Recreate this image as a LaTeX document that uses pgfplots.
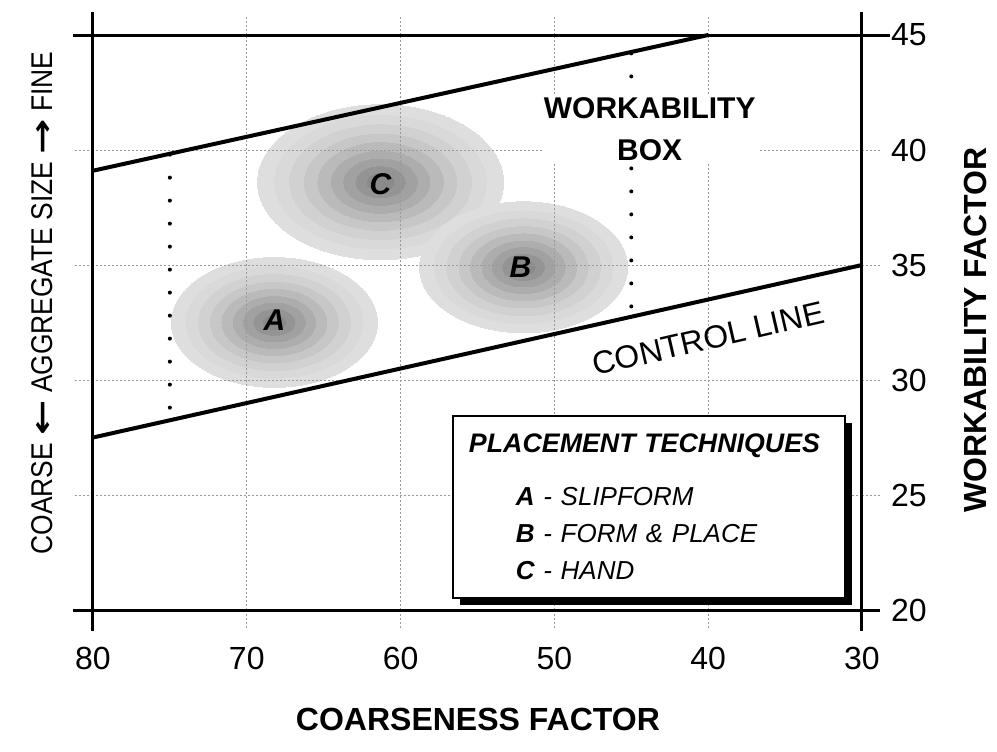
\documentclass[border=0pt]{standalone}
\usepackage{pgfplots}
\pgfplotsset{compat=1.18}
\usepackage{graphicx}
\usepackage{fontspec}
\setmainfont{Liberation Sans}
\newfontfamily\dejavu{DejaVu Sans}
\usetikzlibrary{shadows}

\newcommand\arr[1]{\scalebox{1.6}[1]{\dejavu\bfseries #1}}

\begin{document}
\begin{tikzpicture}
\begin{axis}[
  set layers,
  scale only axis, width=384.5pt, height=287.5pt,
  x dir=reverse, xmin=30, xmax=80, ymin=20, ymax=45,
  xtick={30,40,...,80}, ytick={20,25,...,45},
  xticklabel pos=bottom, xtick pos=both,
  yticklabel pos=right, ytick pos=both,
  tick align=outside, major tick length=9pt,
  tick style={gray!80, line width=0.5pt, dash pattern=on 1pt off 1pt},
  grid=major, grid style={gray!80, line width=0.5pt, dash pattern=on 1pt off 1pt},
  axis line style={draw=none},
  clip=false,
  ticklabel style={font=\fontsize{16}{19}\selectfont},
  xticklabel style={yshift=-6pt},
  yticklabel style={xshift=2pt},
  /pgf/number format/assume math mode=true,
]
% zones C, A, B: centre x, centre y, half width (pt); rings get darker inwards
\foreach \bx/\by/\br in {61.3/38.6/61.5, 68.2/32.5/51.5, 52.0/34.9/52}{
  \foreach \f/\c in {1/13,0.86/15,0.74/18,0.62/22,0.51/27,0.40/32,0.30/37,0.20/42,0.11/46}{
    \pgfmathsetmacro\rr{\f*\br}
    \edef\tmp{\noexpand\addplot[on layer=axis background, mark layer=axis background,
      only marks, mark=*, mark size=\rr pt,
      mark options={draw=black!\c, line width=0pt, fill=black!\c, yscale=0.63}] coordinates {(\bx,\by)};}
    \tmp
  }
}

% frame
\addplot[black, line width=1.5pt] coordinates {(81.3,45) (28.2,45)};
\addplot[black, line width=1.5pt] coordinates {(81.3,20) (28.8,20)};
\addplot[black, line width=1.5pt] coordinates {(80,46) (80,19.1)};
\addplot[black, line width=1.5pt] coordinates {(30,46) (30,19.1)};

% workability box
\addplot[black, line width=2pt] coordinates {(80,39.1) (40,45)};
\addplot[black, line width=2pt] coordinates {(80,27.5) (30,35)};
\addplot[black, line width=2pt, line cap=round, dash pattern=on 0pt off 11.5pt] coordinates {(75,39.8) (75,28.3)};
\addplot[black, line width=2pt, line cap=round, dash pattern=on 0pt off 11.5pt] coordinates {(45,44.2) (45,32.8)};

\node[font=\bfseries\itshape\fontsize{15}{18}\selectfont] at (axis cs:68.2,32.6) {A};
\node[font=\bfseries\itshape\fontsize{15}{18}\selectfont] at (axis cs:52.2,34.9) {B};
\node[font=\bfseries\itshape\fontsize{15}{18}\selectfont] at (axis cs:61.3,38.5) {C};

\node[fill=white, inner sep=1pt, align=center, font=\bfseries\fontsize{15}{21}\selectfont] at (axis cs:43.8,40.9) {WORKABILITY\\BOX};
\node[rotate=13, font=\fontsize{16}{19}\selectfont] at (axis cs:40,31.8) {CONTROL LINE};

\node[draw, line width=1pt, fill=white,
  drop shadow={shadow xshift=3.5pt, shadow yshift=-3.5pt, opacity=1, fill=black},
  text width=180pt, minimum height=91pt, inner xsep=8pt, align=left,
  font=\itshape\fontsize{13}{18.5}\selectfont] at (axis cs:43.85,24.5)
  {\mbox{\fontsize{13.4}{15}\selectfont\textbf{PLACEMENT TECHNIQUES}}\\[8pt]
   \hspace*{23.5pt}\textbf{A} - SLIPFORM\\
   \hspace*{23.5pt}\textbf{B} - FORM \& PLACE\\
   \hspace*{23.5pt}\textbf{C} - HAND};

% axis titles
\node[rotate=90, font=\fontsize{15}{18}\selectfont] at (rel axis cs:-0.066,0.534)
  {\scalebox{0.88}[1]{COARSE \arr{←} AGGREGATE SIZE \arr{→} FINE}};
\node[rotate=90, font=\bfseries\fontsize{16}{19}\selectfont] at (rel axis cs:1.148,0.487) {WORKABILITY FACTOR};
\node[font=\bfseries\fontsize{16}{19}\selectfont] at (rel axis cs:0.5006,-0.191) {COARSENESS FACTOR};

\path (rel axis cs:-0.1209,-0.2452) rectangle (rel axis cs:1.1756,1.0609);
\end{axis}
\end{tikzpicture}
\end{document}
